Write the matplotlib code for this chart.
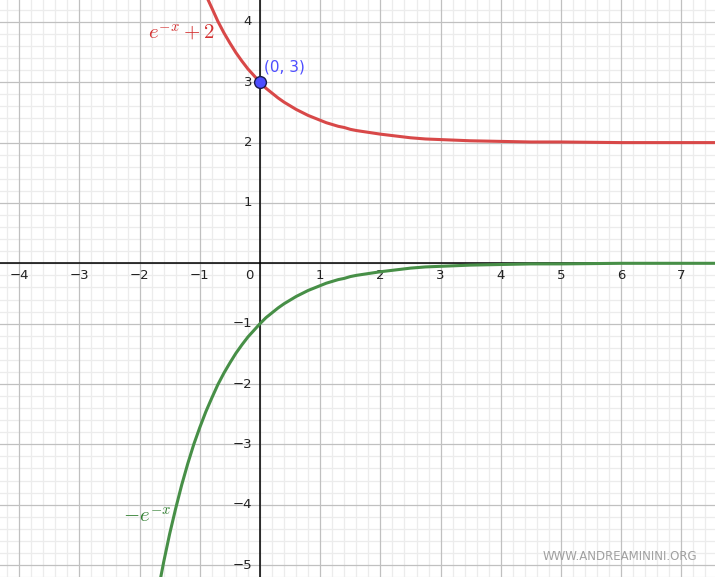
import matplotlib.pyplot as plt
import numpy as np

# points
red_x = [-0.86, -0.8, -0.7, -0.6, -0.5, -0.4, -0.3, -0.2, -0.1, 0.0, 0.1, 0.2, 0.3, 0.4, 0.5,
         0.6, 0.7, 0.8, 0.9, 1.0, 1.1, 1.2, 1.3, 1.4, 1.5, 1.6, 1.8, 2.0, 2.25, 2.5, 2.75,
         3.0, 3.5, 4.0, 4.5, 5.0, 6.0, 7.6]
red_y = [4.36, 4.23, 4.01, 3.82, 3.65, 3.49, 3.35, 3.22, 3.11, 3.00, 2.90, 2.82, 2.74, 2.67, 2.61,
         2.55, 2.50, 2.45, 2.41, 2.37, 2.33, 2.30, 2.27, 2.25, 2.22, 2.20, 2.17, 2.14, 2.11, 2.08,
         2.06, 2.05, 2.03, 2.02, 2.01, 2.01, 2.00, 2.00]

green_x = [-1.66, -1.6, -1.5, -1.4, -1.3, -1.2, -1.1, -1.0, -0.9, -0.8, -0.7, -0.6, -0.5, -0.4,
           -0.3, -0.2, -0.1, 0.0, 0.1, 0.2, 0.3, 0.4, 0.5, 0.6, 0.7, 0.8, 0.9, 1.0, 1.1, 1.2,
           1.3, 1.4, 1.5, 1.6, 1.8, 2.0, 2.25, 2.5, 2.75, 3.0, 3.5, 4.0, 4.5, 5.0, 6.0, 7.6]
green_y = [-5.26, -4.95, -4.48, -4.06, -3.67, -3.32, -3.00, -2.72, -2.46, -2.23, -2.01, -1.82,
           -1.65, -1.49, -1.35, -1.22, -1.11, -1.00, -0.90, -0.82, -0.74, -0.67, -0.61, -0.55,
           -0.50, -0.45, -0.41, -0.37, -0.33, -0.30, -0.27, -0.25, -0.22, -0.20, -0.17, -0.14,
           -0.11, -0.08, -0.06, -0.05, -0.03, -0.02, -0.01, -0.01, 0.00, 0.00]

point = (0, 3)
x_ticks = [-4, -3, -2, -1, 1, 2, 3, 4, 5, 6, 7]
y_ticks = [-5, -4, -3, -2, -1, 1, 2, 3, 4]

fig = plt.figure(figsize=(7.15, 5.77), dpi=100)
ax = fig.add_axes([0, 0, 1, 1])
ax.set_xlim(-260 / 60.2, 455 / 60.2)
ax.set_ylim(-(577 - 263.3) / 60.35, 263.3 / 60.35)
ax.axis('off')

# grid
for v in np.arange(-4.2, 7.8, 0.2):
    if abs(v - round(v)) > 0.01:
        ax.axvline(v, color='#ececec', lw=0.9, zorder=0)
for v in np.arange(-5.2, 4.6, 0.2):
    if abs(v - round(v)) > 0.01:
        ax.axhline(v, color='#ececec', lw=0.9, zorder=0)
for v in range(-4, 8):
    ax.axvline(v, color='#c0c0c0', lw=0.9, zorder=1)
for v in range(-5, 5):
    ax.axhline(v, color='#c0c0c0', lw=0.9, zorder=1)
ax.axhline(0, color='black', lw=1.1, zorder=2)
ax.axvline(0, color='black', lw=1.1, zorder=2)

for t in x_ticks:
    ax.text(t, -0.2, str(t).replace('-', '\u2212'), ha='center', va='center', fontsize=9.5, color='#222222')
ax.text(-0.17, -0.2, '0', ha='center', va='center', fontsize=9.5, color='#222222')
for t in y_ticks:
    ax.text(-0.13, t, str(t).replace('-', '\u2212'), ha='right', va='center', fontsize=9.5, color='#222222')

ax.plot(red_x, red_y, color='#d84848', lw=2.2, zorder=3)
ax.plot(green_x, green_y, color='#478f47', lw=2.2, zorder=3)
ax.plot(*point, 'o', ms=8.5, mfc='#4d4dff', mec='#1a1a4d', mew=1, zorder=4)

ax.text(0.07, 3.25, '(0, 3)', color='#4d4dff', fontsize=11, ha='left', va='center')
ax.text(-1.30, 3.82, r'$e^{-x}+2$', color='#d32f2f', fontsize=15, ha='center', va='center',
        math_fontfamily='cm')
ax.text(-1.88, -4.19, r'$-e^{-x}$', color='#2e7d2e', fontsize=15, ha='center', va='center',
        math_fontfamily='cm')
ax.text(7.27, -4.86, 'WWW.ANDREAMININI.ORG', color='#a0a0a0', fontsize=8.5, ha='right', va='center')

fig.savefig('out.png', dpi=100)
